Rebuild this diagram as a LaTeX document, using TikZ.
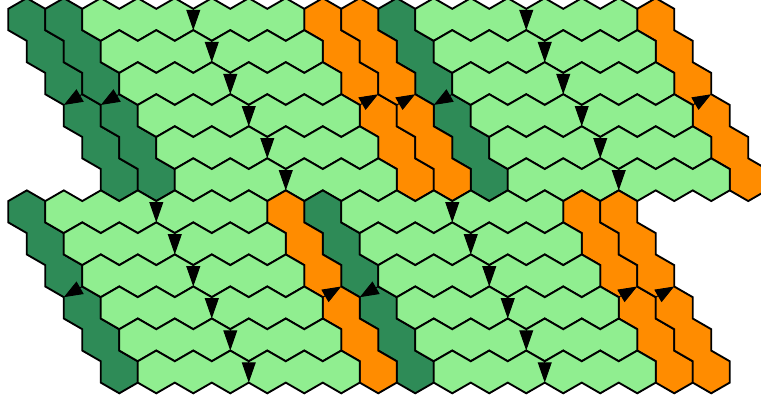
\documentclass[tikz,border=0pt]{standalone}
\usetikzlibrary{arrows.meta}

\definecolor{stripgreen}{RGB}{46,139,87}
\definecolor{rowgreen}{RGB}{144,238,144}
\definecolor{striporange}{RGB}{255,140,0}

% hexagon corners: column, row, half-width step / row, height step
\newcommand{\hexx}[3]{0.8660254*(2*(#1)+(#2)+(#3))}
\newcommand{\hexy}[2]{-1.5*(#1)+(#2)}

% a slanted strip of hexagons: column, first row, last row, colour
\newcommand{\hexstrip}[4]{%
  \filldraw[hexline, fill=#4] ({\hexx{#1}{#2}{0}},{\hexy{#2}{1}})
    \foreach \j in {#2,...,#3} { -- ({\hexx{#1}{\j}{1}},{\hexy{\j}{0.5}}) -- ({\hexx{#1}{\j}{1}},{\hexy{\j}{-0.5}}) }
    -- ({\hexx{#1}{#3}{0}},{\hexy{#3}{-1}})
    \foreach \j in {#3,...,#2} { -- ({\hexx{#1}{\j}{-1}},{\hexy{\j}{-0.5}}) -- ({\hexx{#1}{\j}{-1}},{\hexy{\j}{0.5}}) }
    -- cycle;}

% a row of hexagons: row, first column, last column, colour
\newcommand{\hexrow}[4]{%
  \filldraw[hexline, fill=#4] ({\hexx{#2}{#1}{-1}},{\hexy{#1}{0.5}})
    \foreach \i in {#2,...,#3} { -- ({\hexx{\i}{#1}{0}},{\hexy{#1}{1}}) -- ({\hexx{\i}{#1}{1}},{\hexy{#1}{0.5}}) }
    -- ({\hexx{#3}{#1}{1}},{\hexy{#1}{-0.5}})
    \foreach \i in {#3,...,#2} { -- ({\hexx{\i}{#1}{0}},{\hexy{#1}{-1}}) -- ({\hexx{\i}{#1}{-1}},{\hexy{#1}{-0.5}}) }
    -- cycle;}

\tikzset{
  hexline/.style={draw=black, line width=1.5pt},
  downarrow/.style={-{Triangle[length=0.57cm, width=0.39cm]}, line width=0.8pt},
  slantarrow/.style={-{Triangle[length=0.53cm, width=0.4cm]}, line width=0.8pt},
}

\begin{document}
\begin{tikzpicture}[x=0.6cm, y=0.6cm]
  \useasboundingbox (-1.2547,0.913) rectangle (34.373,-17.907);
  \clip (-1.2547,0.913) rectangle (34.373,-17.907);

  % upper band, rows 0-5
  \hexstrip{0}{0}{5}{stripgreen}
  \hexstrip{1}{0}{5}{stripgreen}
  \hexstrip{10}{0}{5}{stripgreen}
  \hexstrip{8}{0}{5}{striporange}
  \hexstrip{9}{0}{5}{striporange}
  \hexstrip{17}{0}{5}{striporange}
  \foreach \r in {0,...,5} {
    \hexrow{\r}{2}{7}{rowgreen}
    \hexrow{\r}{11}{16}{rowgreen}
  }

  % lower band, rows 6-11
  \hexstrip{-3}{6}{11}{stripgreen}
  \hexstrip{5}{6}{11}{stripgreen}
  \hexstrip{4}{6}{11}{striporange}
  \hexstrip{12}{6}{11}{striporange}
  \hexstrip{13}{6}{11}{striporange}
  \foreach \r in {6,...,11} {
    \hexrow{\r}{-2}{3}{rowgreen}
    \hexrow{\r}{6}{11}{rowgreen}
  }

  % arrows in the rows
  \foreach \r/\k in {0/5,1/5,2/5,3/5,4/5,5/5,0/14,1/14,2/14,3/14,4/14,5/14,
                     6/1,7/1,8/1,9/1,10/1,11/1,6/9,7/9,8/9,9/9,10/9,11/9}
    \draw[downarrow] ({\hexx{\k}{\r}{-1}},{\hexy{\r}{0.5}}) -- ({\hexx{\k}{\r}{-1}},{\hexy{\r}{-0.5}});

  % arrows in the strips
  \foreach \c/\r in {0/2,1/2,10/2,-3/8,5/8}
    \draw[slantarrow] ({\hexx{\c}{\r}{1}},{\hexy{\r}{-0.5}}) -- ({\hexx{\c}{\r}{0}},{\hexy{\r}{-1}});
  \foreach \c/\r in {8/2,9/2,17/2,4/8,12/8,13/8}
    \draw[slantarrow] ({\hexx{\c}{\r}{0}},{\hexy{\r}{-1}}) -- ({\hexx{\c}{\r}{1}},{\hexy{\r}{-0.5}});
\end{tikzpicture}
\end{document}
